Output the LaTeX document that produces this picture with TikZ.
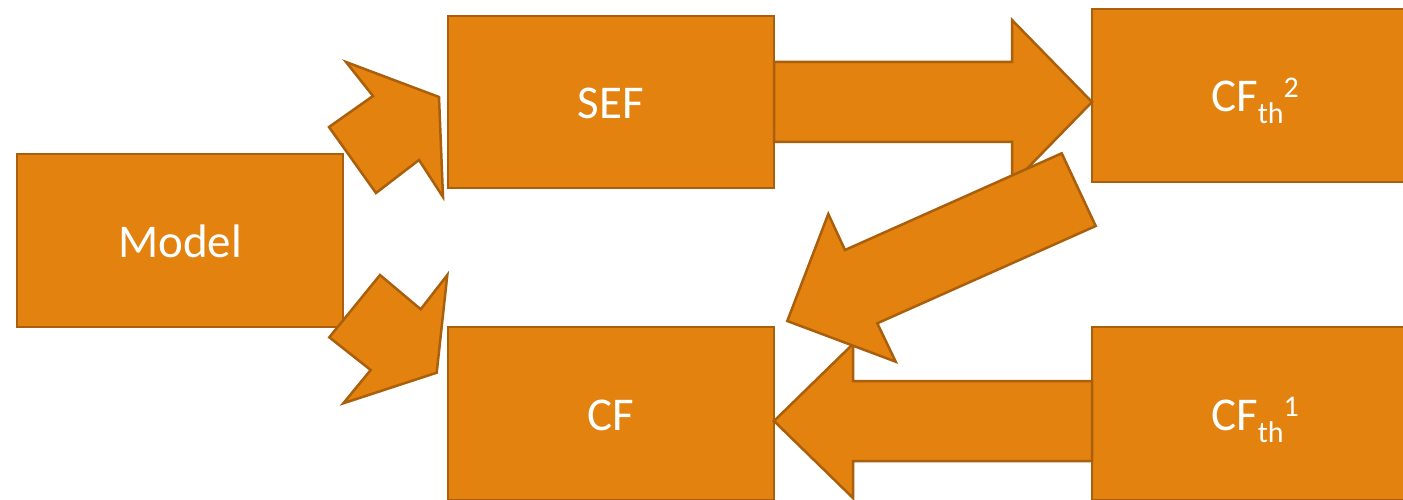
\documentclass[tikz,border=0pt]{standalone}
\usepackage{fontspec}
\setmainfont{Carlito}
\definecolor{boxfill}{HTML}{E3820F}
\definecolor{boxline}{HTML}{A95F0C}
\newcommand{\subtxt}[1]{\raisebox{-12pt}{\fontsize{30}{36}\selectfont #1}}
\newcommand{\suptxt}[1]{\raisebox{14pt}{\fontsize{30}{36}\selectfont #1}}
\begin{document}
\begin{tikzpicture}[x=1pt,y=-1pt,
  blockbox/.style={draw=boxline,fill=boxfill,line width=2.5pt,
    minimum width=326pt,minimum height=173pt,inner sep=0pt,
    text height=33pt,text depth=0pt,
    text=white,font=\fontsize{47}{56}\selectfont},
  blockarrow/.style={draw=boxline,fill=boxfill,line width=2.5pt,line join=miter}]
\useasboundingbox (0,0) rectangle (1403,500);
\clip (0,0) rectangle (1403,500);

% boxes
\node[blockbox] (model) at (180,240.5) {Model};
\node[blockbox,minimum height=172pt] (sef) at (611,102) {SEF};
\node[blockbox] (cf) at (611,413.5) {CF};
\node[blockbox] (cfth2) at (1255,95.5) {CF\subtxt{th}\suptxt{2}};
\node[blockbox] (cfth1) at (1255,413.5) {CF\subtxt{th}\suptxt{1}};

% small arrows leaving Model
\draw[blockarrow] (346,62) -- (439,97) -- (443,197) -- (419,160) -- (376,193)
  -- (329,127) -- (373,96) -- cycle;
\draw[blockarrow] (380,275) -- (420.7,309.3) -- (447.3,275) -- (436.7,372.7)
  -- (343.3,403.3) -- (370.7,370) -- (329.3,337.3) -- cycle;

% SEF to CF_th^2
\draw[blockarrow] (774,62) -- (1012,62) -- (1012,20) -- (1092,102)
  -- (1012,184) -- (1012,142) -- (774,142) -- cycle;

% CF_th^1 to CF
\draw[blockarrow] (1092,381) -- (853,381) -- (853,344) -- (774,421)
  -- (853,498) -- (853,461) -- (1092,461) -- cycle;

% CF_th^2 to CF
\draw[blockarrow] (1061.7,153.3) -- (1095.7,226) -- (877.3,323.3) -- (895.7,361.7)
  -- (787.3,321) -- (828.3,214) -- (845,250) -- cycle;
\end{tikzpicture}
\end{document}
